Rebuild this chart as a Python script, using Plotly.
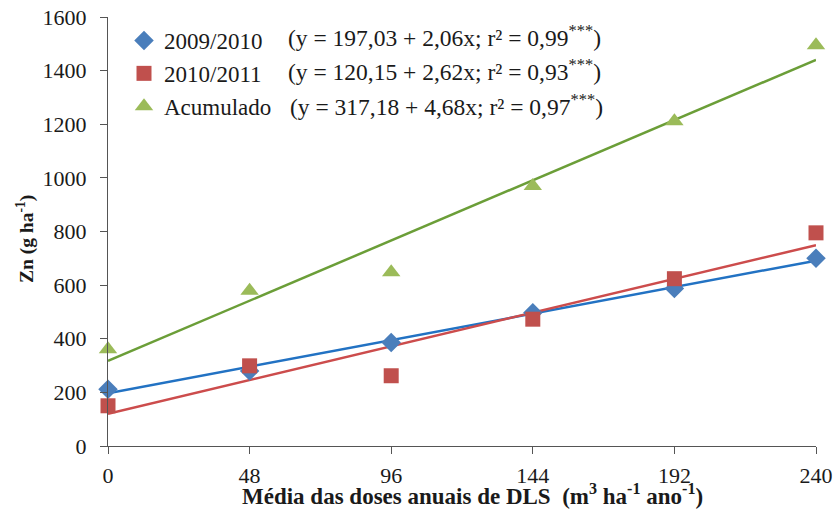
import numpy as np
import plotly.graph_objects as go

# Mean annual DLS doses (m3 ha-1 yr-1)
doses = [0, 48, 96, 144, 192, 240]

# Zn (g ha-1) per season and accumulated
zn_2009_2010 = [212, 280, 386, 497, 587, 700]
zn_2010_2011 = [150, 299, 262, 473, 624, 795]
zn_acumulado = [361, 579, 648, 970, 1211, 1495]

# Fitted linear models: (intercept, slope)
fit_2009_2010 = (197.03, 2.06)
fit_2010_2011 = (120.15, 2.62)
fit_acumulado = (317.18, 4.68)

series_names = ["2009/2010", "2010/2011", "Acumulado"]
equations = [
    "(y = 197,03 + 2,06x; r² = 0,99<sup>***</sup>)",
    "(y = 120,15 + 2,62x; r² = 0,93<sup>***</sup>)",
    "(y = 317,18 + 4,68x; r² = 0,97<sup>***</sup>)",
]

x_ticks = [0, 48, 96, 144, 192, 240]
y_ticks = [0, 200, 400, 600, 800, 1000, 1200, 1400, 1600]

FONT = "Liberation Serif"

marker_colors = ["#4A7EBB", "#C0504D", "#9BBB59"]
line_colors = ["#2272C3", "#CC4C4C", "#6B9E38"]
symbols = ["diamond", "square", "triangle-up"]
sizes = [15, 15, 16]

fig = go.Figure()

xfit = np.array([min(doses), max(doses)], dtype=float)
for (a, b), col in zip([fit_2009_2010, fit_2010_2011, fit_acumulado], line_colors):
    fig.add_trace(go.Scatter(
        x=xfit, y=a + b * xfit, mode="lines",
        line=dict(color=col, width=2.5), showlegend=False, hoverinfo="skip",
    ))

for name, ys, col, sym, sz in zip(series_names,
                                  [zn_2009_2010, zn_2010_2011, zn_acumulado],
                                  marker_colors, symbols, sizes):
    fig.add_trace(go.Scatter(
        x=doses, y=ys, mode="markers", name=name,
        marker=dict(color=col, symbol=sym, size=sz, line=dict(width=0)),
        cliponaxis=False,
    ))

L, R, T, B = 108, 18, 17, 85
PW, PH = 834 - L - R, 531 - T - B


def px(xp):
    return (xp - L) / PW


def py(yp):
    return 1 - (yp - T) / PH


for i, eq in enumerate(equations):
    fig.add_annotation(
        xref="paper", yref="paper", x=px(286 if i < 2 else 288),
        y=py([36, 70, 105][i]),
        text=eq, showarrow=False, xanchor="left", yanchor="middle",
        font=dict(family=FONT, size=23.5, color="#1a1a1a"),
    )

# Axis titles
fig.add_annotation(
    xref="paper", yref="paper", x=px(472), y=py(494),
    text="<b>Média das doses anuais de DLS  (m<sup>3</sup> ha<sup>-1</sup> ano<sup>-1</sup>)</b>",
    showarrow=False, xanchor="center", yanchor="middle",
    font=dict(family=FONT, size=23, color="#1a1a1a"),
)
fig.add_annotation(
    xref="paper", yref="paper", x=px(25), y=py(239),
    text="<b>Zn (g ha<sup>-1</sup>)</b>", textangle=-90,
    showarrow=False, xanchor="center", yanchor="middle",
    font=dict(family=FONT, size=19.5, color="#1a1a1a"),
)

axis_common = dict(
    showgrid=False, zeroline=False, showline=True, linecolor="#555555", linewidth=1.3,
    ticks="outside", ticklen=7, tickwidth=1.3, tickcolor="#555555", automargin=False,
    tickfont=dict(family=FONT, size=22, color="#1a1a1a"),
)

fig.update_layout(
    width=834, height=531,
    margin=dict(l=L, r=R, t=T, b=B, autoexpand=False),
    paper_bgcolor="white", plot_bgcolor="white",
    font=dict(family=FONT, color="#1a1a1a"),
    xaxis=dict(range=[0, 240], tickvals=x_ticks, ticklabelstandoff=2, **axis_common),
    yaxis=dict(range=[0, 1600], tickvals=y_ticks, ticklabelstandoff=9, **axis_common),
    legend=dict(
        x=px(124), y=py(19), xanchor="left", yanchor="top",
        bgcolor="rgba(0,0,0,0)", font=dict(family=FONT, size=23, color="#1a1a1a"),
        itemwidth=30, tracegroupgap=0,
    ),
)

fig.write_html("out.html")
